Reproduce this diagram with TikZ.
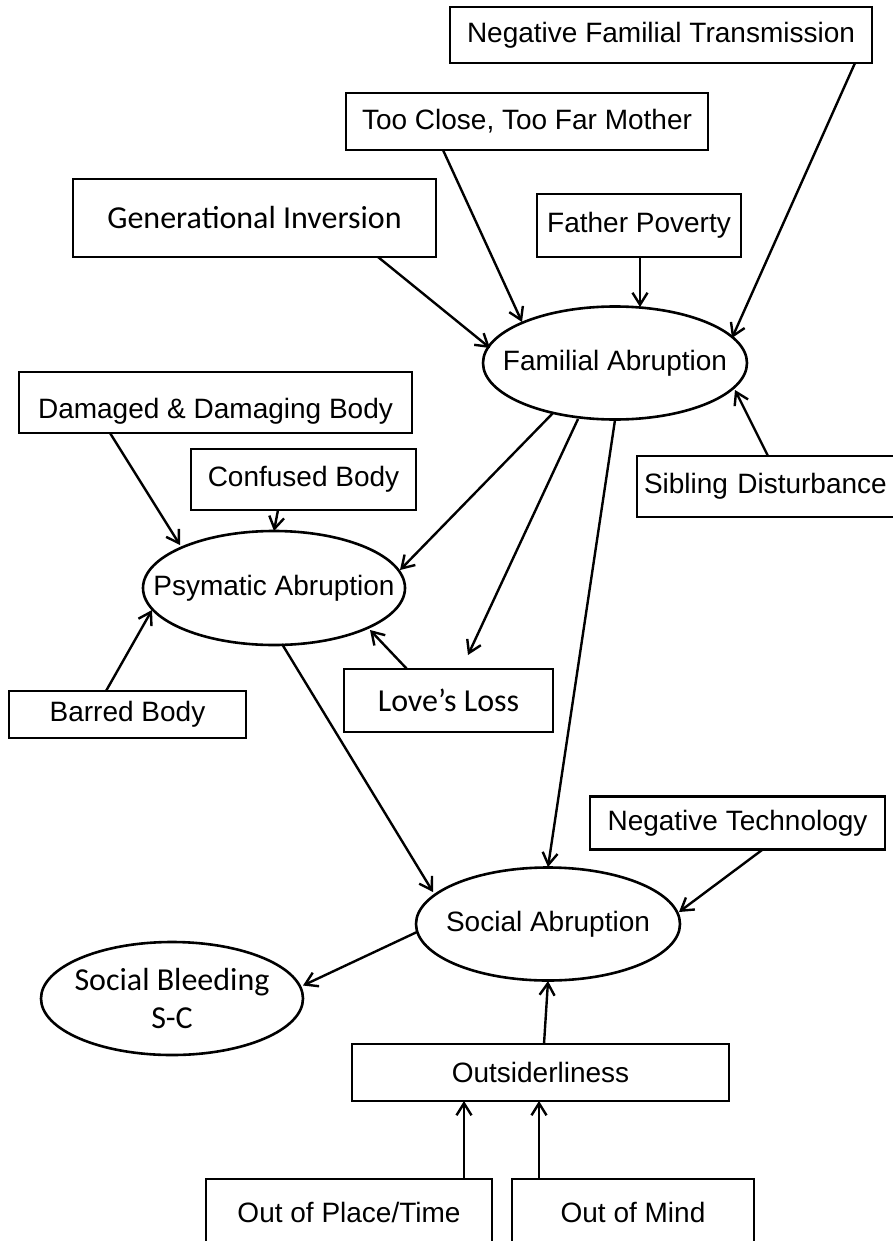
\documentclass[tikz,border=0pt]{standalone}
\usepackage{fontspec}
\setmainfont{Liberation Sans}
\newfontfamily\calfont{Carlito}
\usetikzlibrary{shapes.geometric,arrows.meta}
\begin{document}
\begin{tikzpicture}[x=1pt,y=-1pt,
  box/.style={draw, line width=2.6pt, rectangle, inner sep=0pt, font=\fontsize{28}{32}\selectfont},
  oval/.style={draw, line width=2.6pt, ellipse, inner sep=0pt, font=\fontsize{28}{32}\selectfont},
  cal/.style={font=\calfont\fontsize{32}{38}\selectfont},
  arr/.style={line width=2.4pt, -{Straight Barb[length=12pt,width=15pt]}}]
\useasboundingbox (0,0) rectangle (893,1241);
\clip (0,0) rectangle (893,1241);
\fill[white] (0,0) rectangle (893,1241);

% boxes
\node[box, minimum width=422pt, minimum height=56pt] (nft) at (661,35) {Negative Familial Transmission};
\node[box, minimum width=362pt, minimum height=57pt] (tctfm) at (527,121.5) {Too Close, Too Far Mother};
\node[box, cal, minimum width=363pt, minimum height=78pt] (gi) at (254.5,218) {Generational Inversion};
\node[box, minimum width=204pt, minimum height=63pt] (fp) at (639,225.5) {Father Poverty};
\node[box, minimum width=393pt, minimum height=61pt] (ddb) at (215.5,402.5) {\raisebox{-9pt}[20pt][6pt]{Damaged \& Damaging Body}};
\node[box, minimum width=225pt, minimum height=61pt] (cb) at (303.5,479.5) {Confused Body};
\node[box, minimum width=270pt, minimum height=61pt, text width=256pt, align=left] (sd) at (772,486.5) {Sibling Disturbance};
\node[box, minimum width=237pt, minimum height=47pt] (bb) at (127.5,714.5) {Barred Body};
\node[box, cal, minimum width=209pt, minimum height=63pt] (ll) at (448.5,700.5) {Love’s Loss};
\node[box, minimum width=295pt, minimum height=53pt] (nt) at (737.5,823) {Negative Technology};
\node[box, minimum width=377pt, minimum height=57pt] (outs) at (540.5,1072.5) {Outsiderliness};
\node[box, minimum width=286pt, minimum height=66pt] (opt) at (349,1212) {Out of Place/Time};
\node[box, minimum width=242pt, minimum height=66pt] (om) at (633,1212) {Out of Mind};

% ellipses
\node[oval, minimum width=264pt, minimum height=113pt] (fa) at (615,363) {\makebox[0pt]{Familial Abruption}};
\node[oval, minimum width=262pt, minimum height=114pt] (pa) at (274,588) {\makebox[0pt]{Psymatic Abruption}};
\node[oval, minimum width=264pt, minimum height=113pt] (sa) at (548,924) {\makebox[0pt]{Social Abruption}};
\node[oval, cal, minimum width=262pt, minimum height=113pt, align=center] (sb) at (172,998.5) {\makebox[0pt]{Social Bleeding}\\\makebox[0pt]{S-C}};

% connectors
\draw[arr] ([shift={(194,28)}]nft.center) -- ([shift={(117,-25)}]fa.center);
\draw[arr] ([shift={(-84,28.5)}]tctfm.center) -- ([shift={(-93,-41)}]fa.center);
\draw[arr] ([shift={(123.5,39)}]gi.center) -- ([shift={(-125,-15)}]fa.center);
\draw[arr] ([shift={(1,31.5)}]fp.center) -- ([shift={(25,-56)}]fa.center);
\draw[arr] ([shift={(-4,-30.5)}]sd.center) -- ([shift={(120,27)}]fa.center);
\draw[arr] ([shift={(-62,50)}]fa.center) -- ([shift={(126,-18)}]pa.center);
\draw[arr] ([shift={(-37,56)}]fa.center) -- ([shift={(19.5,-45.5)}]ll.center);
\draw[arr] ([shift={(0,57)}]fa.center) -- ([shift={(0,-57)}]sa.center);
\draw[arr] ([shift={(-105.5,30.5)}]ddb.center) -- ([shift={(-94,-43)}]pa.center);
\draw[arr] ([shift={(-25.5,30.5)}]cb.center) -- ([shift={(0,-57)}]pa.center);
\draw[arr] ([shift={(-21.5,-23.5)}]bb.center) -- ([shift={(-122,22)}]pa.center);
\draw[arr] ([shift={(-41.5,-31.5)}]ll.center) -- ([shift={(96,42)}]pa.center);
\draw[arr] ([shift={(8,56)}]pa.center) -- ([shift={(-115,-32)}]sa.center);
\draw[arr] ([shift={(24.5,27)}]nt.center) -- ([shift={(131,-12)}]sa.center);
\draw[arr] ([shift={(-131,8)}]sa.center) -- ([shift={(131,-13)}]sb.center);
\draw[arr] ([shift={(3.5,-28.5)}]outs.center) -- ([shift={(0,57)}]sa.center);
\draw[arr] ([shift={(115,-33)}]opt.center) -- ([shift={(-76.5,28.5)}]outs.center);
\draw[arr] ([shift={(-94,-33)}]om.center) -- ([shift={(-1.5,28.5)}]outs.center);
\end{tikzpicture}
\end{document}
